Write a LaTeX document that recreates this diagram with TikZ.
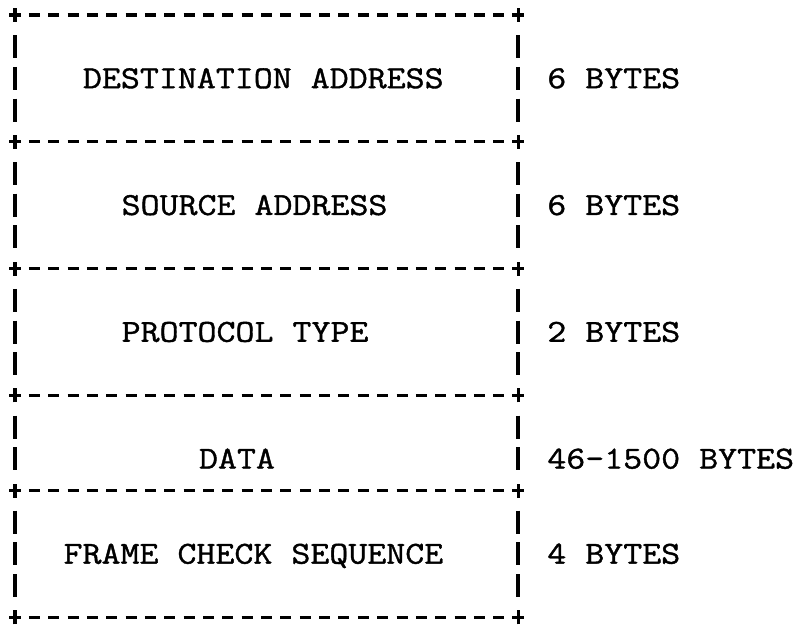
\documentclass[tikz,border=0pt]{standalone}
\usepackage{fontspec}
\newfontfamily\typew{Latin Modern Mono}[FakeStretch=1.152,FakeBold=1.2]
\begin{document}
\begin{tikzpicture}[x=1pt,y=-1pt,
  lbl/.style={font=\fontsize{32}{32}\selectfont\typew, inner sep=0pt, text height=19.5pt, text depth=0pt, anchor=west},
  hdash/.style={line width=3.2pt, dash pattern=on 11pt off 8.35pt},
  vdash/.style={line width=3.8pt, dash pattern=on 23pt off 8.7pt},
  plus/.style={line width=3.2pt}]
\useasboundingbox (0,0) rectangle (799,631);
% corner coordinates of the row lines
\foreach \r in {0,4,8,12,15,19} {
  \coordinate (L\r) at (15,{15+\r*31.7});
  \coordinate (R\r) at (518.1,{15+\r*31.7});
}
% horizontal dashed lines with corner crosses
\foreach \r in {0,4,8,12,15,19} {
  \draw[hdash] ([xshift=13.85pt]L\r) -- ([xshift=-13.85pt]R\r);
  \draw[plus] ([xshift=-6pt]L\r) -- ([xshift=6pt]L\r);
  \draw[plus] ([yshift=-7pt]L\r) -- ([yshift=7pt]L\r);
  \draw[plus] ([xshift=-6pt]R\r) -- ([xshift=6pt]R\r);
  \draw[plus] ([yshift=-7pt]R\r) -- ([yshift=7pt]R\r);
}
% vertical bars of each field
\foreach \a/\b in {0/4,4/8,8/12,12/15,15/19} {
  \draw[vdash] ([yshift=-20.2pt]L\a) -- ([yshift=20.2pt]L\b);
  \draw[vdash] ([yshift=-20.2pt]R\a) -- ([yshift=20.2pt]R\b);
}
% field names
\node[lbl] (f1) at ({15+4*19.35-9.675},{15+2*31.7}) {DESTINATION ADDRESS};
\node[lbl] (f2) at ({15+6*19.35-9.675},{15+6*31.7}) {SOURCE ADDRESS};
\node[lbl] (f3) at ({15+6*19.35-9.675},{15+10*31.7}) {PROTOCOL TYPE};
\node[lbl] (f4) at ({15+10*19.35-9.675},{15+14*31.7}) {DATA};
\node[lbl] (f5) at ({15+3*19.35-9.675},{15+17*31.7}) {FRAME CHECK SEQUENCE};
% sizes
\node[lbl] (s1) at ({15+28*19.35-9.675},{15+2*31.7}) {6 BYTES};
\node[lbl] (s2) at ({15+28*19.35-9.675},{15+6*31.7}) {6 BYTES};
\node[lbl] (s3) at ({15+28*19.35-9.675},{15+10*31.7}) {2 BYTES};
\node[lbl] (s4) at ({15+28*19.35-9.675},{15+14*31.7}) {46-1500 BYTES};
\node[lbl] (s5) at ({15+28*19.35-9.675},{15+17*31.7}) {4 BYTES};
\end{tikzpicture}
\end{document}
